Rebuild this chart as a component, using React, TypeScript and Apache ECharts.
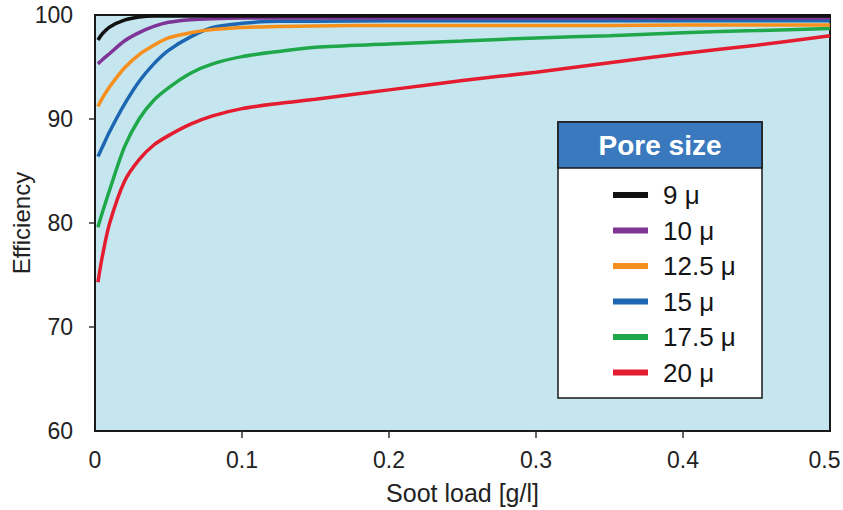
import React, { useEffect, useRef } from "react";
import * as echarts from "echarts";

const sootLoad = [0.002, 0.005, 0.01, 0.02, 0.03, 0.04, 0.05, 0.065, 0.08, 0.1, 0.125, 0.15, 0.2, 0.25, 0.3, 0.35, 0.4, 0.45, 0.5];

const poreSizes = ["9 μ", "10 μ", "12.5 μ", "15 μ", "17.5 μ", "20 μ"];

const eff9 = [97.6, 98.2, 98.85, 99.5, 99.8, 99.9, 99.9, 99.9, 99.9, 99.9, 99.9, 99.9, 99.9, 99.9, 99.9, 99.9, 99.9, 99.9, 99.9];
const eff10 = [95.3, 95.7, 96.3, 97.5, 98.3, 98.9, 99.3, 99.55, 99.65, 99.7, 99.7, 99.7, 99.7, 99.7, 99.7, 99.7, 99.7, 99.7, 99.7];
const eff12_5 = [91.2, 92.0, 93.1, 94.9, 96.2, 97.1, 97.8, 98.3, 98.6, 98.8, 98.9, 98.95, 99.0, 99.0, 99.0, 99.0, 99.05, 99.05, 99.05];
const eff15 = [86.4, 87.3, 88.8, 91.4, 93.6, 95.3, 96.6, 97.9, 98.8, 99.2, 99.4, 99.4, 99.45, 99.45, 99.45, 99.45, 99.45, 99.45, 99.45];
const eff17_5 = [79.6, 81.0, 83.2, 87.3, 90.0, 91.8, 93.0, 94.4, 95.3, 96.0, 96.5, 96.9, 97.2, 97.5, 97.8, 98.0, 98.3, 98.5, 98.7];
const eff20 = [74.3, 76.8, 80.0, 84.0, 86.1, 87.5, 88.4, 89.5, 90.3, 91.0, 91.5, 91.9, 92.8, 93.7, 94.5, 95.4, 96.3, 97.1, 98.0];

const allSeries = [eff9, eff10, eff12_5, eff15, eff17_5, eff20];
const colors = ["#111111", "#7e3595", "#f5901e", "#1d66b1", "#1fa84a", "#e31d2f"];

const xTicks = [0.1, 0.2, 0.3, 0.4];
const yTicks = [70, 80, 90];

export default function App() {
  const ref = useRef<HTMLDivElement>(null);
  useEffect(() => {
    if (!ref.current) return;
    const chart = echarts.init(ref.current, undefined, { renderer: "svg" });
    const font = "Liberation Sans, Arial, Helvetica, sans-serif";
    chart.setOption({
      animation: false,
      textStyle: { fontFamily: font },
      grid: {
        left: 95,
        right: 13,
        top: 15,
        bottom: 79,
        containLabel: false,
        outerBoundsMode: "none",
        show: true,
        backgroundColor: "#c6e6ef",
        borderColor: "#1a1a1a",
        borderWidth: 2,
        z: 0,
      },
      xAxis: {
        type: "value",
        min: 0,
        max: 0.5,
        interval: 0.1,
        name: "Soot load [g/l]",
        nameLocation: "middle",
        nameGap: 49,
        nameMoveOverlap: false,
        nameTextStyle: { fontSize: 25, color: "#222", fontFamily: font },
        axisLine: { show: true, lineStyle: { color: "#1a1a1a", width: 2 } },
        axisTick: { show: true, customValues: xTicks, length: 7, lineStyle: { color: "#333", width: 1.5 } },
        axisLabel: {
          fontSize: 23,
          color: "#222",
          margin: 17,
          fontFamily: font,
          formatter: (v: number) => (v >= 0.5 ? "{e|" + v + "}" : String(v)),
          rich: { e: { fontSize: 23, color: "#222", fontFamily: font, padding: [0, 11, 0, 0] } },
        },
        splitLine: { show: false },
      },
      yAxis: {
        type: "value",
        min: 60,
        max: 100,
        interval: 10,
        name: "Efficiency",
        nameLocation: "middle",
        nameGap: 62,
        nameMoveOverlap: false,
        nameRotate: 90,
        nameTextStyle: { fontSize: 24, color: "#222", fontFamily: font },
        axisLine: { show: true, lineStyle: { color: "#1a1a1a", width: 2 } },
        axisTick: { show: true, customValues: yTicks, length: 6, lineStyle: { color: "#333", width: 1.5 } },
        axisLabel: { fontSize: 23, color: "#222", margin: 22, fontFamily: font },
        splitLine: { show: false },
      },
      legend: {
        orient: "vertical",
        left: 608,
        top: 177,
        icon: "rect",
        itemWidth: 35,
        itemHeight: 6,
        itemGap: 9.5,
        z: 10,
        textStyle: { fontSize: 26, color: "#151515", lineHeight: 26, padding: [0, 0, 0, 10], fontFamily: font },
        data: poreSizes,
      },
      graphic: [
        {
          type: "rect",
          z: 5,
          shape: { x: 558, y: 122, width: 204, height: 276 },
          style: { fill: "#ffffff", stroke: "#1a1a1a", lineWidth: 1.5 },
        },
        {
          type: "rect",
          z: 6,
          shape: { x: 558, y: 122, width: 204, height: 46 },
          style: { fill: "#3a79bd", stroke: "#1a1a1a", lineWidth: 1.5 },
        },
        {
          type: "text",
          z: 7,
          x: 660,
          y: 145,
          style: {
            text: "Pore size",
            fill: "#ffffff",
            font: "bold 28px " + font,
            textAlign: "center",
            textVerticalAlign: "middle",
          },
        },
      ],
      series: allSeries.map((vals, i) => ({
        name: poreSizes[i],
        type: "line",
        smooth: 0.3,
        showSymbol: false,
        symbol: "none",
        z: 8 - i,
        color: colors[i],
        lineStyle: { width: 3.5, color: colors[i] },
        data: sootLoad.map((x, j) => [x, vals[j]]),
      })),
    });
    return () => chart.dispose();
  }, []);
  return (
    <div
      ref={ref}
      style={{ position: "fixed", left: 0, top: 0, width: 843, height: 510, background: "#ffffff" }}
    />
  );
}
